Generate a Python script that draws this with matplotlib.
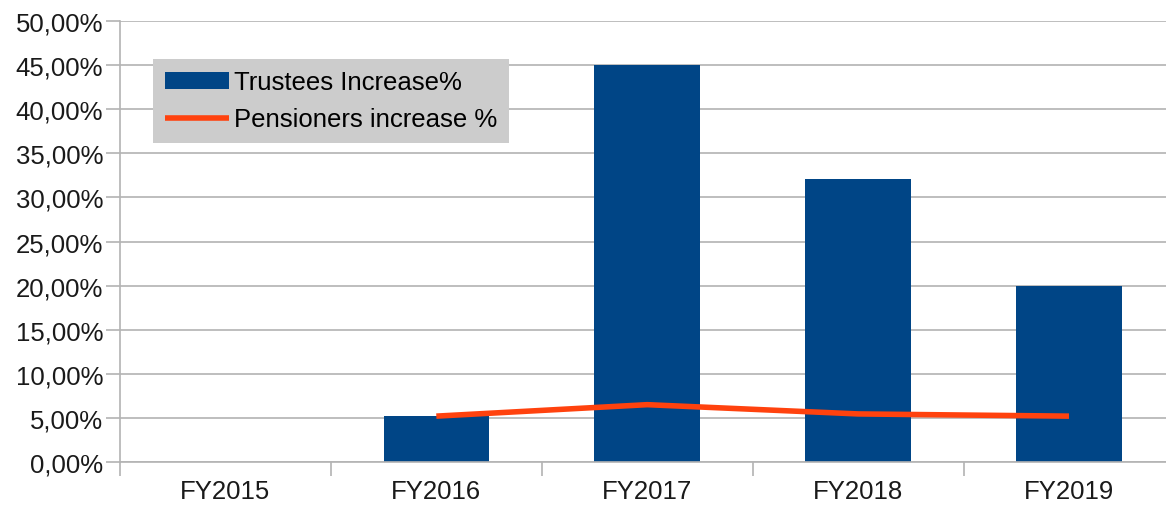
import matplotlib.pyplot as plt
from matplotlib.ticker import FixedLocator, FuncFormatter

plt.rcParams['font.family'] = ['Liberation Sans', 'DejaVu Sans']

years = ['FY2015', 'FY2016', 'FY2017', 'FY2018', 'FY2019']
trustees = [0.0, 5.25, 45.0, 32.1, 20.0]
pensioners = [None, 5.2, 6.5, 5.45, 5.2]

blue = '#004586'
orange = '#ff420e'
grid_col = '#b3b3b3'
fs = 18.5

fig = plt.figure(figsize=(11.66, 5.06), dpi=100)
ax = fig.add_axes([120 / 1166, 43 / 506, 1046 / 1166, 441 / 506])

x = list(range(len(years)))
bars = ax.bar(x, trustees, width=0.5, color=blue, label='Trustees Increase%', zorder=2)

lx = [i for i, v in zip(x, pensioners) if v is not None]
ly = [v for v in pensioners if v is not None]
line, = ax.plot(lx, ly, color=orange, lw=4, solid_capstyle='butt', label='Pensioners increase %', zorder=3)

ax.set_ylim(0, 50)
ax.set_xlim(-0.5, 4.46)
ax.set_yticks([i * 5 for i in range(11)])
ax.yaxis.set_major_formatter(FuncFormatter(lambda v, p: f'{v:.2f}%'.replace('.', ',')))
ax.grid(axis='y', color=grid_col, lw=1.2, zorder=0)

ax.xaxis.set_major_locator(FixedLocator([i - 0.5 for i in range(6)]))
ax.xaxis.set_minor_locator(FixedLocator(x))
ax.xaxis.set_major_formatter(FuncFormatter(lambda v, p: ''))
ax.set_xticklabels(years, minor=True)
ax.tick_params(axis='x', which='major', length=10, color=grid_col, width=1.2)
ax.tick_params(axis='x', which='minor', length=0, pad=12, labelsize=fs, labelcolor='#1a1a1a')
ax.tick_params(axis='y', length=10, color=grid_col, width=1.2, pad=2, labelsize=fs, labelcolor='#1a1a1a')

for s in ['top', 'right']:
    ax.spines[s].set_visible(False)
for s in ['left', 'bottom']:
    ax.spines[s].set_color(grid_col)
    ax.spines[s].set_linewidth(1.2)

leg = ax.legend([bars, line], ['Trustees Increase%', 'Pensioners increase %'],
                loc='upper left', bbox_to_anchor=(0.0316, 0.914), borderaxespad=0,
                fontsize=fs, frameon=True, fancybox=False, handlelength=2.5,
                handleheight=0.6, handletextpad=0.2, labelspacing=0.5,
                borderpad=0.45)
leg.get_frame().set_facecolor('#cccccc')
leg.get_frame().set_edgecolor('none')
leg.get_frame().set_alpha(1)

fig.savefig('out.png', dpi=100)
